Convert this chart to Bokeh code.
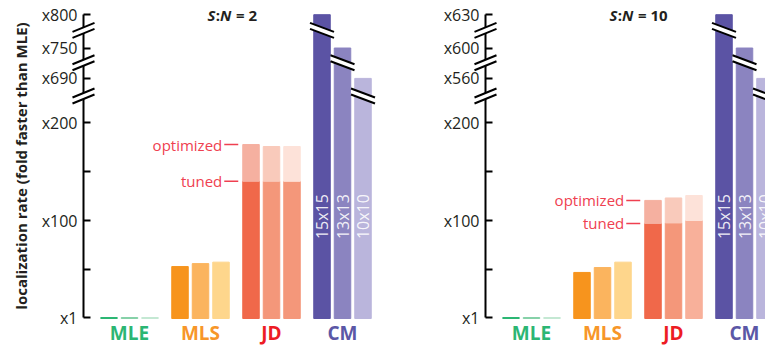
import numpy as np
from bokeh.plotting import figure
from bokeh.models import Range1d, FixedTicker
from bokeh.layouts import row
from bokeh.embed import file_html
from bokeh.resources import INLINE
from bokeh.core.properties import value

# ---------------- data ----------------
CATEGORIES = ["MLE", "MLS", "JD", "CM"]
CM_SIZES = ["15x15", "13x13", "10x10"]
MINOR_TICKS = [50, 150]

SN2_MLE = [1, 1, 1]
SN2_MLS = [53, 56, 57.5]
SN2_JD_TUNED = [140, 140, 140]
SN2_JD_OPT = [177.5, 175.5, 175.5]
SN2_CM = [800, 750, 690]
SN2_TICKS = [1, 100, 200, 690, 750, 800]

SN10_MLE = [1, 1, 1]
SN10_MLS = [47, 52, 57.5]
SN10_JD_TUNED = [97, 97.5, 100]
SN10_JD_OPT = [120.5, 123, 125.5]
SN10_CM = [630, 600, 560]
SN10_TICKS = [1, 100, 200, 560, 600, 630]

# ---------------- style ----------------
FONT = "Open Sans"
PX_PER_UNIT = 0.98
CANVAS_H = 347
ZERO_Y = 318
UPPER_DISPLAY = [245, 276, 310]
BREAK_DISPLAY = [227, 261, 294]
GROUP_X0, GROUP_STEP, BAR_STEP, BAR_W = 46, 71, 20.5, 16.5

MLE_COLORS = ["#2bb673", "#86d1a8", "#c4e8d3"]
MLS_COLORS = ["#f7941d", "#fbb45e", "#fed68c"]
JD_OPT_COLORS = ["#f5b0a0", "#f9cabb", "#fde2d9"]
CM_COLORS = ["#5b53a4", "#8b84c0", "#bab5dc"]
LABEL_COLORS = ["#2bb673", "#f7962a", "#ed1c24", "#5b57a6"]
ANNOT_COLOR = "#ef4050"


def make_panel(sn, mle, mls, jd_t, jd_o, cm, ticks, jd_t_colors, width, left_px, ylabel):
    upper = list(ticks[3:])

    def disp(v):
        return np.interp(v, [0, 200] + upper, [0, 200] + UPPER_DISPLAY)

    y_hi = ZERO_Y / PX_PER_UNIT
    y_lo = -(CANVAS_H - ZERO_Y) / PX_PER_UNIT
    p = figure(width=width, height=CANVAS_H,
               x_range=Range1d(-left_px, width - left_px),
               y_range=Range1d(y_lo, y_hi),
               output_backend="svg", toolbar_location=None,
               x_axis_location=None, min_border=0)
    p.outline_line_color = None
    p.grid.visible = False
    p.background_fill_color = "white"
    p.border_fill_color = "white"

    ax = p.yaxis[0]
    ax.fixed_location = 0
    ax.ticker = FixedTicker(ticks=[float(t) for t in disp(ticks)],
                            minor_ticks=[float(t) for t in disp(MINOR_TICKS)])
    ax.major_label_overrides = {float(disp(t)): f"x{t}" for t in ticks}
    ax.bounds = (float(disp(1)), float(disp(ticks[-1])))
    ax.axis_line_width = 2
    ax.axis_line_color = "black"
    ax.major_tick_in = 7
    ax.major_tick_out = 0
    ax.minor_tick_in = 7
    ax.minor_tick_out = 0
    ax.major_tick_line_width = 2
    ax.minor_tick_line_width = 2
    ax.major_label_text_font = FONT
    ax.major_label_text_font_size = "16px"
    ax.major_label_text_color = "#231f20"
    ax.major_label_standoff = 6
    if ylabel:
        ax.axis_label = ylabel
        ax.axis_label_text_font = FONT
        ax.axis_label_text_font_size = "15px"
        ax.axis_label_text_font_style = "bold"
        ax.axis_label_text_color = "#231f20"
        ax.axis_label_standoff = 8

    def bar_x(i):
        return [GROUP_X0 + i * GROUP_STEP + (j - 1) * BAR_STEP for j in range(3)]

    # bars
    p.vbar(x=bar_x(0), bottom=0, top=disp(mle), width=BAR_W,
           fill_color=MLE_COLORS, line_color=MLE_COLORS, line_width=1)
    p.vbar(x=bar_x(1), bottom=0, top=disp(mls), width=BAR_W,
           fill_color=MLS_COLORS, line_color=MLS_COLORS, line_width=1)
    p.vbar(x=bar_x(2), bottom=0, top=disp(jd_t), width=BAR_W,
           fill_color=jd_t_colors, line_color=jd_t_colors, line_width=1)
    p.vbar(x=bar_x(2), bottom=disp(jd_t), top=disp(jd_o), width=BAR_W,
           fill_color=JD_OPT_COLORS, line_color=JD_OPT_COLORS, line_width=1)
    p.vbar(x=bar_x(3), bottom=0, top=disp(cm), width=BAR_W,
           fill_color=CM_COLORS, line_color=CM_COLORS, line_width=1)

    # break marks
    gap = 6.0 / PX_PER_UNIT

    def break_mark(xc, yd, half_w, half_rise_px, direction):
        dy = direction * half_rise_px / PX_PER_UNIT
        xs = [xc - half_w, xc + half_w]
        up = [yd + gap / 2 - dy, yd + gap / 2 + dy]
        lo = [yd - gap / 2 - dy, yd - gap / 2 + dy]
        r1 = p.patch([xs[0], xs[1], xs[1], xs[0]], [up[0], up[1], lo[1], lo[0]],
                     fill_color="white", line_color=None)
        r2 = p.multi_line([xs, xs], [up, lo], line_color="black", line_width=2)
        r1.level = "overlay"
        r2.level = "overlay"

    for yd in BREAK_DISPLAY:
        break_mark(0, yd, 11, 4.5, +1)
    for k, v in enumerate(cm):
        idx = upper.index(v)
        break_mark(bar_x(3)[k], BREAK_DISPLAY[idx], 12, 4.5, -1)

    # CM size labels inside bars
    p.text(x=bar_x(3), y=[104] * 3, text=CM_SIZES, angle=np.pi / 2,
           text_align="center", text_baseline="middle",
           text_font=value(FONT), text_font_size="16px",
           text_color="white", text_alpha=0.9)

    # tuned / optimized annotations at JD first bar
    jd_left = bar_x(2)[0] - BAR_W / 2 - 0.5
    ann_y = [float(disp(jd_o[0])), float(disp(jd_t[0]))]
    p.text(x=[jd_left - 20] * 2, y=ann_y, text=["optimized", "tuned"],
           text_align="right", text_baseline="middle",
           text_font=value(FONT), text_font_size="15px", text_color=ANNOT_COLOR)
    p.segment(x0=[jd_left - 18] * 2, y0=ann_y, x1=[jd_left - 4] * 2, y1=ann_y,
              line_color=ANNOT_COLOR, line_width=1.5)

    # category labels
    p.text(x=[GROUP_X0 + i * GROUP_STEP for i in range(4)], y=[-14.5] * 4,
           text=CATEGORIES, text_align="center", text_baseline="middle",
           text_font=value(FONT), text_font_size="19px", text_font_style="bold",
           text_color=LABEL_COLORS)

    # title S:N = n
    ty = 310
    tx = 124
    pieces = [("S", "bold italic", 0), (":", "bold", 8.3), ("N", "bold italic", 12.6),
              (f"= {sn}", "bold", 28.5)]
    for txt, style, off in pieces:
        p.text(x=[tx + off], y=[ty], text=[txt], text_align="left",
               text_baseline="middle", text_font=value(FONT),
               text_font_size="15px", text_font_style=style, text_color="#231f20")
    return p


JD_T_COLORS_2 = ["#f0684a", "#f4977a", "#f4977a"]
JD_T_COLORS_10 = ["#f0684a", "#f4977a", "#f8b09a"]

p1 = make_panel(2, SN2_MLE, SN2_MLS, SN2_JD_TUNED, SN2_JD_OPT, SN2_CM, SN2_TICKS,
                JD_T_COLORS_2, 380, 83, "localization rate (fold faster than MLE)")
p2 = make_panel(10, SN10_MLE, SN10_MLS, SN10_JD_TUNED, SN10_JD_OPT, SN10_CM, SN10_TICKS,
                JD_T_COLORS_10, 385, 105, None)

layout = row(p1, p2)
open("out.html", "w").write(file_html(layout, INLINE))
